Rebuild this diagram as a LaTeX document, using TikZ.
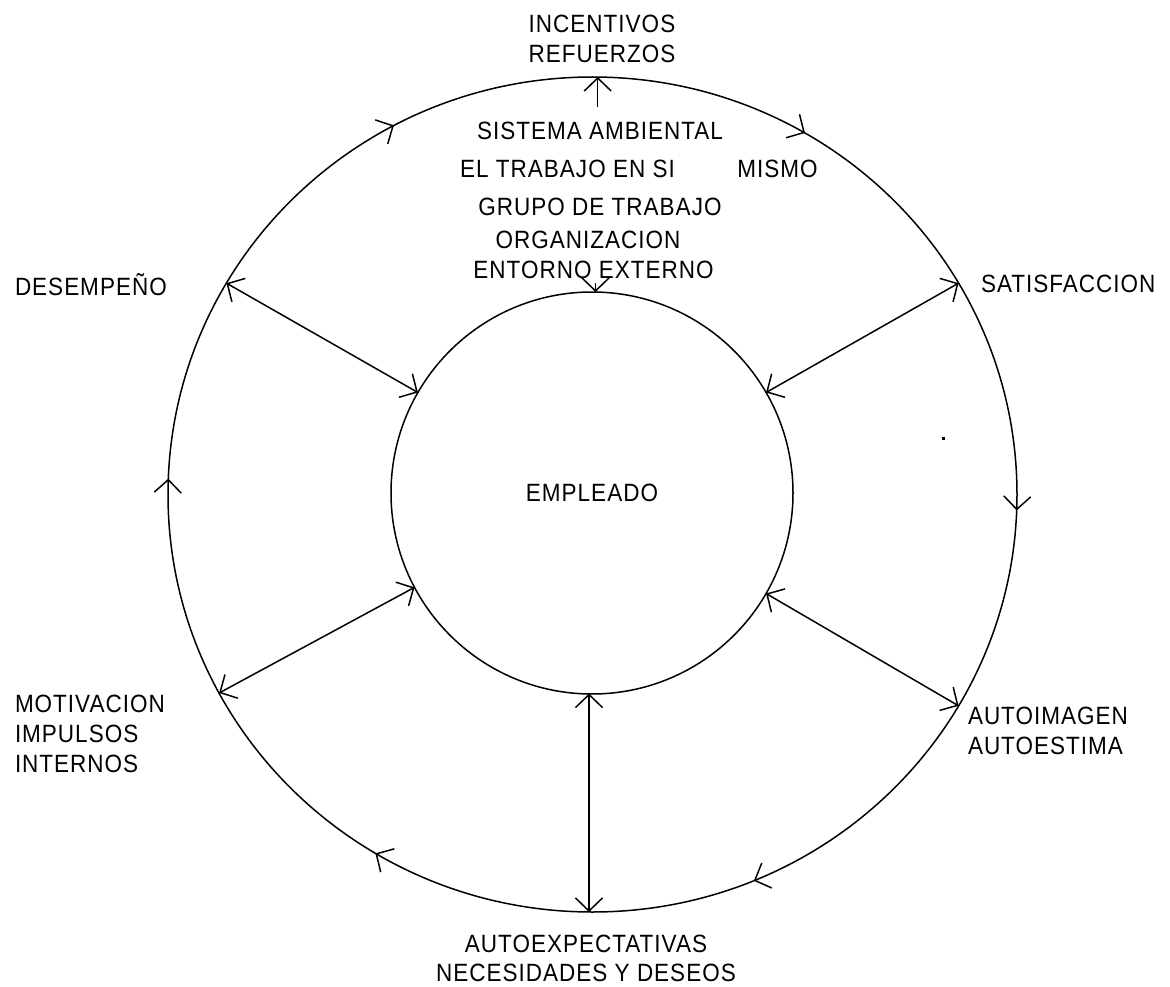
\documentclass[tikz,border=0pt]{standalone}
\usepackage{fontspec}
\setmainfont{Liberation Sans}[FakeStretch=0.9,LetterSpace=4]
\usetikzlibrary{arrows.meta,decorations.markings,shapes.geometric}
\begin{document}
\begin{tikzpicture}[x=1pt,y=-1pt,
  >={Straight Barb[length=13pt,width=27pt]},
  every node/.style={inner sep=0pt,outer sep=0pt},
  lbl/.style={font=\fontsize{25}{30}\selectfont},
  lbl2/.style={font=\fontsize{25}{29}\selectfont},
  ln/.style={line width=1.5pt}]
\useasboundingbox (0,0) rectangle (1170,987);
% circles
\node[draw,ln,circle,minimum size=402pt,lbl] (emp) at (592,493) {EMPLEADO};
\node[draw,ln,ellipse,minimum width=849pt,minimum height=835pt] (amb) at (592.5,494.5) {};
% circulation arrowheads on the outer ring
\path[decorate,decoration={markings,
  mark=at position 0.006 with {\arrow[line width=1.5pt]{>}},
  mark=at position 0.1875 with {\arrow[line width=1.5pt]{>}},
  mark=at position 0.336 with {\arrow[line width=1.5pt]{>}},
  mark=at position 0.506 with {\arrow[line width=1.5pt]{>}},
  mark=at position 0.672 with {\arrow[line width=1.5pt]{>}},
  mark=at position 0.834 with {\arrow[line width=1.5pt]{>}}}]
  (592.5,494.5) ellipse [x radius=424.5, y radius=417.5];
% radial connectors
\draw[ln,<->] (emp.150) -- (amb.150);
\draw[ln,<->] (emp.30) -- (amb.30);
\draw[ln,<->] (emp.208) -- (amb.208);
\draw[ln,<->] (emp.330) -- (amb.330);
\coordinate (botin) at (589,693.5);
\draw[ln,<->] (botin) -- (botin |- amb.south);
\coordinate (topstart) at (597.7,107);
\draw[ln,->] (topstart) -- (topstart |- amb.north);
\coordinate (entstart) at (595.5,283);
\draw[ln,->] (entstart) -- (entstart |- emp.north);
% labels
\node[lbl,align=center] (inc) at (602,39) {INCENTIVOS\\REFUERZOS};
\node[lbl,anchor=base] (sis) at (600,140) {SISTEMA AMBIENTAL};
\node[lbl,anchor=base] (tra) at (567.5,178) {EL TRABAJO EN SI};
\node[lbl,anchor=base] (mis) at (777.5,178) {MISMO};
\node[lbl,anchor=base] (gru) at (600,215) {GRUPO DE TRABAJO};
\node[lbl,anchor=base] (org) at (588,248) {ORGANIZACION};
\node[lbl,anchor=base] (ent) at (593.5,278) {ENTORNO EXTERNO};
\node[lbl,anchor=base west] (des) at (15,295) {DESEMPEÑO};
\node[lbl,anchor=base west] (sat) at (981,292) {SATISFACCION};
\node[lbl,align=left,anchor=north west] (mot) at (15,695) {MOTIVACION\\IMPULSOS\\INTERNOS};
\node[lbl,align=left,anchor=north west] (aut) at (968,707) {AUTOIMAGEN\\AUTOESTIMA};
\node[lbl2,align=center,anchor=north] (exp) at (586,935) {AUTOEXPECTATIVAS\\NECESIDADES Y DESEOS};
\fill (942,437) rectangle (944.5,439.5);
\end{tikzpicture}
\end{document}
